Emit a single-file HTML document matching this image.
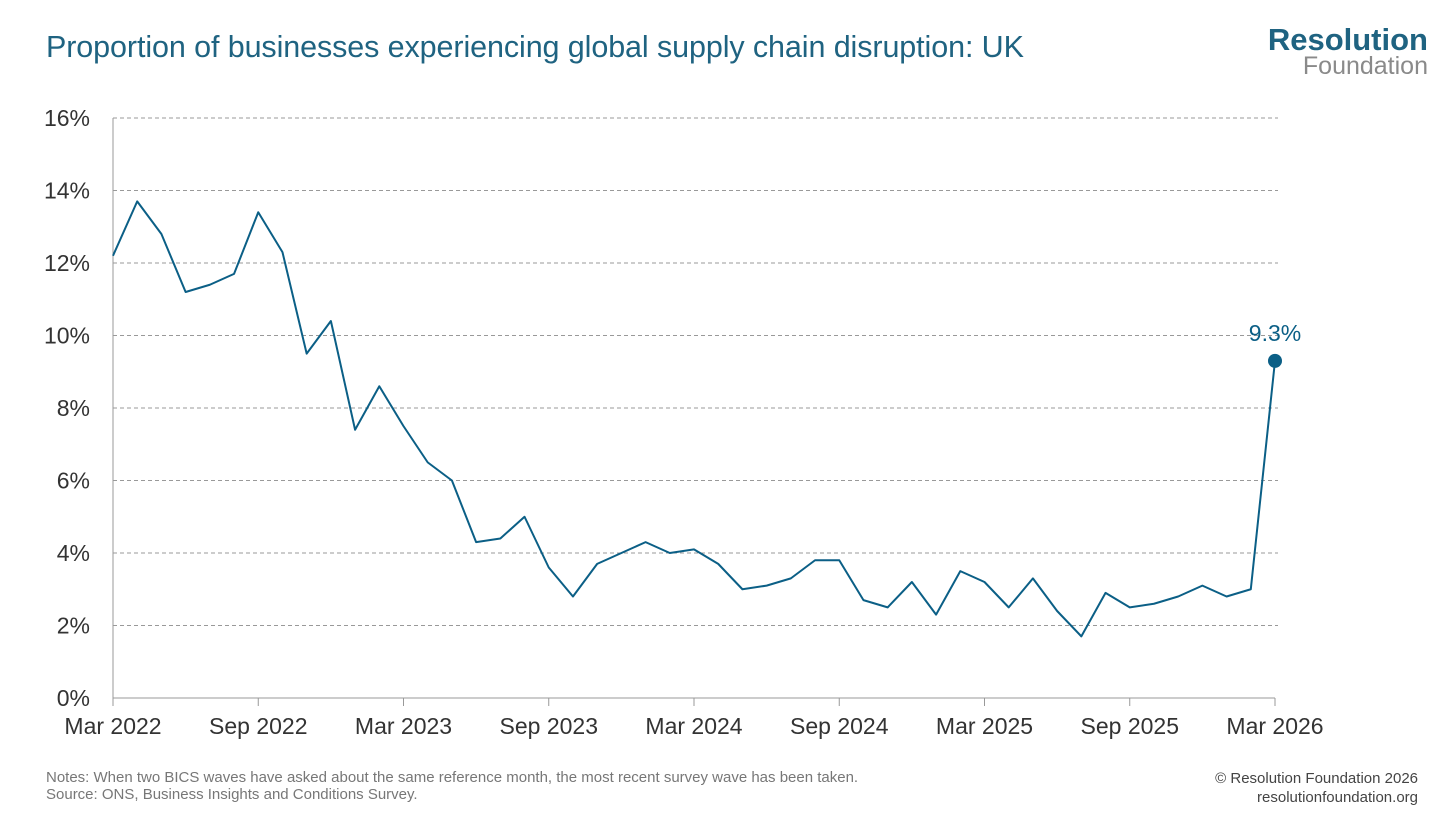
<!DOCTYPE html>
<html><head><meta charset="utf-8">
<style>
body{margin:0;background:#fff;font-family:"Liberation Sans",sans-serif;}
#wrap{position:relative;width:1456px;height:819px;overflow:hidden;}
.title{position:absolute;left:46px;top:30px;font-size:30.5px;color:#1f6381;font-weight:300;letter-spacing:-0.1px}
.logo1{position:absolute;right:28px;top:22px;font-size:31px;font-weight:bold;color:#1f6381}
.logo2{position:absolute;right:28px;top:52px;font-size:25px;color:#8a8a8a}
.notes{position:absolute;left:46px;top:769px;font-size:15px;color:#777;line-height:17px}
.copy{position:absolute;right:38px;top:769px;font-size:15px;color:#444;text-align:right;line-height:19px}
</style></head><body>
<div id="wrap">
<div class="title">Proportion of businesses experiencing global supply chain disruption: UK</div>
<div class="logo1">Resolution</div>
<div class="logo2">Foundation</div>
<svg id="svg" width="1456" height="819" style="position:absolute;left:0;top:0"></svg>
<div class="notes">Notes: When two BICS waves have asked about the same reference month, the most recent survey wave has been taken.<br>Source: ONS, Business Insights and Conditions Survey.</div>
<div class="copy">© Resolution Foundation 2026<br>resolutionfoundation.org</div>
</div>
<script>
const values=[12.2,13.7,12.8,11.2,11.4,11.7,13.4,12.3,9.5,10.4,7.4,8.6,7.5,6.5,6.0,4.3,4.4,5.0,3.6,2.8,3.7,4.0,4.3,4.0,4.1,3.7,3.0,3.1,3.3,3.8,3.8,2.7,2.5,3.2,2.3,3.5,3.2,2.5,3.3,2.4,1.7,2.9,2.5,2.6,2.8,3.1,2.8,3.0,9.3];
const yTicks=[0,2,4,6,8,10,12,14,16];
const xTickLabels=["Mar 2022","Sep 2022","Mar 2023","Sep 2023","Mar 2024","Sep 2024","Mar 2025","Sep 2025","Mar 2026"];
const xTickMonths=[0,6,12,18,24,30,36,42,48];
const NS="http://www.w3.org/2000/svg";
const svg=document.getElementById('svg');
const x0=113,x1=1275,y0=698,y1=118;
const X=i=>x0+(x1-x0)*i/48;
const Y=v=>y0-(y0-y1)*v/16;
function mk(t,a){const e=document.createElementNS(NS,t);for(const k in a)e.setAttribute(k,a[k]);svg.appendChild(e);return e;}
yTicks.forEach(v=>{
 if(v>0){const g=mk('line',{x1:x0,x2:1278,y1:Y(v),y2:Y(v),stroke:'#999','stroke-dasharray':'4,3','stroke-width':1});
 
 }
 const t=mk('text',{x:90,y:Y(v)+8,'text-anchor':'end','font-size':23,fill:'#333','font-family':'Liberation Sans, sans-serif'});
 t.textContent=v+'%';
 
 
});
const ya=mk('line',{x1:x0,x2:x0,y1:y1,y2:y0,stroke:'#999'});


const xa=mk('line',{x1:x0,x2:x1,y1:y0,y2:y0,stroke:'#999'});


xTickMonths.forEach((m,i)=>{
 const tk=mk('line',{x1:X(m),x2:X(m),y1:y0,y2:y0+8,stroke:'#999'});
 
 
 const t=mk('text',{x:X(m),y:734,'text-anchor':'middle','font-size':23,fill:'#333','font-family':'Liberation Sans, sans-serif'});
 t.textContent=xTickLabels[i];
 
 
});
const p=mk('polyline',{points:values.map((v,i)=>X(i)+','+Y(v)).join(' '),fill:'none',stroke:'#0b5f86','stroke-width':2,'stroke-linejoin':'round'});


const li=values.length-1;
const c=mk('circle',{cx:X(li),cy:Y(values[li]),r:7,fill:'#0b5f86'});


const lt=mk('text',{x:X(li),y:Y(values[li])-20,'text-anchor':'middle','font-size':23,fill:'#0b5f86','font-family':'Liberation Sans, sans-serif'});
lt.textContent=values[li]+'%';


</script>
</body></html>
